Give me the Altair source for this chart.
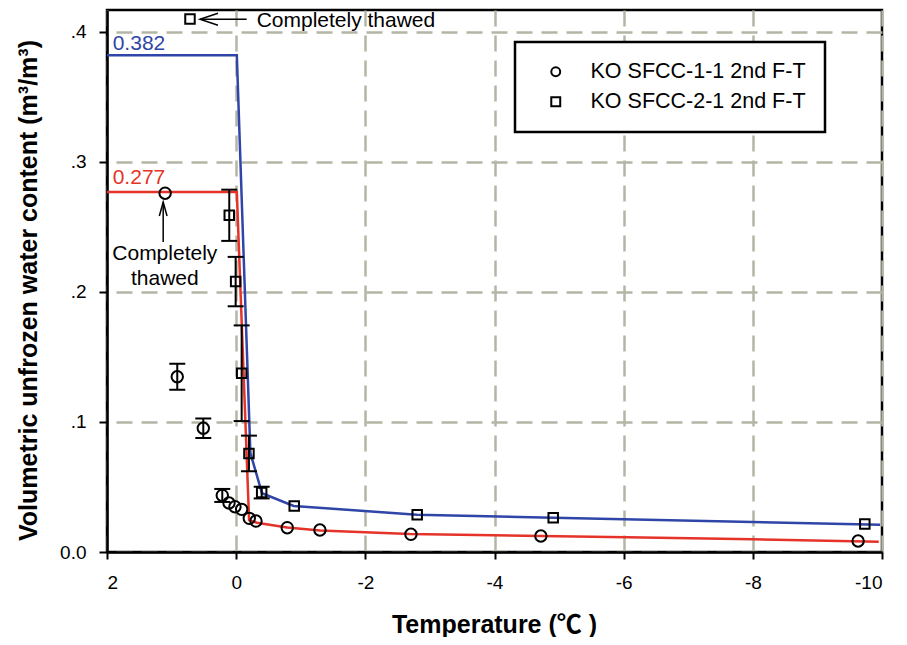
import altair as alt
import pandas as pd

FONT = "Liberation Sans, Arial, Noto Sans CJK SC, sans-serif"
L1 = "KO SFCC-1-1 2nd F-T"
L2 = "KO SFCC-2-1 2nd F-T"

# measured points, series 1 (circles)
c_temp = [1.10, 0.912, 0.509, 0.215, 0.111, 0.019, -0.085, -0.203, -0.307, -0.791, -1.297, -2.706, -4.718, -9.630]
c_theta = [0.276, 0.1348, 0.0952, 0.0435, 0.0377, 0.0348, 0.0328, 0.0259, 0.0238, 0.0187, 0.0169, 0.0136, 0.0123, 0.0085]
c_err = [0, 0.010, 0.0075, 0.005, 0, 0, 0, 0, 0, 0, 0, 0, 0, 0]

# measured points, series 2 (squares)
s_temp = [0.715, 0.107, 0.008, -0.085, -0.198, -0.395, -0.899, -2.803, -4.909, -9.734]
s_theta = [0.410, 0.259, 0.208, 0.1375, 0.0758, 0.0457, 0.0354, 0.0287, 0.0264, 0.0215]
s_err = [0, 0.0197, 0.019, 0.0368, 0.0137, 0.0045, 0, 0, 0, 0]

# fitted curves
red_temp = [2, -0.01, -0.20, -0.32, -0.79, -1.30, -2.69, -4.72, -6.05, -8.0, -9.95]
red_theta = [0.277, 0.277, 0.0246, 0.0225, 0.0188, 0.0165, 0.0138, 0.0123, 0.0113, 0.0098, 0.0078]
blue_temp = [2, -0.01, -0.22, -0.40, -0.89, -2.80, -4.91, -9.97]
blue_theta = [0.382, 0.382, 0.0762, 0.0452, 0.0354, 0.0287, 0.0264, 0.0210]

# axis ticks
x_ticks = [2, 0, -2, -4, -6, -8, -10]
y_ticks = [0.0, 0.1, 0.2, 0.3, 0.4]

# annotations
ann_text = ["0.382", "0.277", "Completely thawed", "Completely", "thawed"]
ann_temp = [1.912, 1.912, -0.317, 1.105, 1.105]
ann_theta = [0.3862, 0.2831, 0.4041, 0.2246, 0.2054]
ann_color = ["#2f45a8", "#e5332a", "black", "black", "black"]
ann_align = ["left", "left", "left", "center", "center"]

BLUE = "#2f45a8"
RED = "#e5332a"

xs = alt.Scale(domain=[-10, 2], reverse=True, nice=False, zero=False)
ys = alt.Scale(domain=[0, 0.4169], nice=False, zero=False)

xaxis = alt.Axis(
    values=x_ticks,
    labelExpr="datum.value < 0 ? '-' + abs(datum.value) : '' + datum.value",
    title="Temperature (\u2103 )",
    titleFontSize=25, titleFont=FONT, titleFontWeight="bold", titleColor="black",
    titleX=387, titleY=80, titleBaseline="alphabetic", titleAlign="center", titleAnchor="middle",
    labelFontSize=19, labelFont=FONT, labelColor="black", labelPadding=14,
    tickSize=7, tickWidth=2, tickColor="black",
    domainColor="black", domainWidth=2.5,
    grid=True, gridColor="#b5b5a6", gridWidth=2.5, gridDash=[16, 9],
)
yaxis = alt.Axis(
    values=y_ticks,
    labelExpr="datum.value == 0 ? '0.0' : '.' + round(datum.value * 10)",
    title="Volumetric unfrozen water content (m\u00b3/m\u00b3)",
    titleFontSize=25, titleFont=FONT, titleFontWeight="bold", titleColor="black",
    titleX=-79, titleY=280, titleBaseline="middle", titleAlign="center", titleAngle=270,
    labelFontSize=19, labelFont=FONT, labelColor="black", labelPadding=13,
    tickSize=8, tickWidth=2, tickColor="black",
    domainColor="black", domainWidth=2.5,
    grid=True, gridColor="#b5b5a6", gridWidth=2.5, gridDash=[16, 9],
)

X = alt.X("T:Q", scale=xs, axis=xaxis)
Y = alt.Y("theta:Q", scale=ys, axis=yaxis)

df_c = pd.DataFrame({"T": c_temp, "theta": c_theta, "err": c_err, "series": L1})
df_s = pd.DataFrame({"T": s_temp, "theta": s_theta, "err": s_err, "series": L2})
df_red = pd.DataFrame({"T": red_temp, "theta": red_theta})
df_blue = pd.DataFrame({"T": blue_temp, "theta": blue_theta})

df_err = pd.concat([df_c, df_s])
df_err = df_err[df_err["err"] > 0].copy()
df_err["lo"] = df_err["theta"] - df_err["err"]
df_err["hi"] = df_err["theta"] + df_err["err"]
df_caps = pd.concat([
    pd.DataFrame({"T": df_err["T"], "theta": df_err["lo"]}),
    pd.DataFrame({"T": df_err["T"], "theta": df_err["hi"]}),
])

df_ann = pd.DataFrame({"T": ann_temp, "theta": ann_theta, "label": ann_text,
                       "color": ann_color, "align": ann_align})

shape_scale = alt.Scale(domain=[L1, L2], range=["circle", "square"])
legend = alt.Legend(
    title=None, orient="none", legendX=408, legendY=32,
    padding=19, symbolOffset=11, labelOffset=24, rowPadding=7,
    strokeColor="black", fillColor="white",
    labelFont=FONT, labelFontSize=21.5, labelColor="black", labelLimit=400,
    symbolSize=80, symbolStrokeWidth=2, symbolStrokeColor="black",
    symbolFillColor="transparent",
)

red_line = alt.Chart(df_red).mark_line(color=RED, strokeWidth=2.5).encode(x=X, y=Y)
blue_line = alt.Chart(df_blue).mark_line(color=BLUE, strokeWidth=2.5).encode(x=X, y=Y)

err_rules = alt.Chart(df_err).mark_rule(color="black", strokeWidth=2).encode(
    x=X, y=alt.Y("lo:Q", scale=ys, axis=yaxis), y2="hi:Q")
err_caps = alt.Chart(df_caps).mark_tick(
    color="black", thickness=2, size=16, orient="horizontal", opacity=1).encode(x=X, y=Y)

pts_c = alt.Chart(df_c).mark_point(filled=False, color="black", strokeWidth=2, size=130, opacity=1).encode(
    x=X, y=Y, shape=alt.Shape("series:N", scale=shape_scale, legend=legend))
pts_s = alt.Chart(df_s).mark_point(filled=False, color="black", strokeWidth=2, size=90, opacity=1).encode(
    x=X, y=Y, shape=alt.Shape("series:N", scale=shape_scale, legend=legend))

# arrows
arrow_shaft_h = alt.Chart(pd.DataFrame({"T": [0.560], "T2": [-0.163], "theta": [0.4098]})).mark_rule(
    color="black", strokeWidth=1.5).encode(x=X, x2="T2:Q", y=Y)
arrow_head_h = alt.Chart(pd.DataFrame({"T": [0.421], "theta": [0.4098]})).mark_point(
    shape="M 1 -0.67 L -1 0 L 1 0.67", filled=False, color="black", strokeWidth=1.5, size=324, opacity=1
).encode(x=X, y=Y)
arrow_shaft_v = alt.Chart(pd.DataFrame({"T": [1.13], "theta": [0.2692], "theta2": [0.2385]})).mark_rule(
    color="black", strokeWidth=1.5).encode(x=X, y=Y, y2="theta2:Q")
arrow_head_v = alt.Chart(pd.DataFrame({"T": [1.13], "theta": [0.2638]})).mark_point(
    shape="M -0.55 1 L 0 -1 L 0.55 1", filled=False, color="black", strokeWidth=1.5, size=196, opacity=1
).encode(x=X, y=Y)

texts_left = alt.Chart(df_ann[df_ann["align"] == "left"]).mark_text(
    align="left", baseline="alphabetic", fontSize=21, font=FONT).encode(
    x=X, y=Y, text="label:N", color=alt.Color("color:N", scale=None))
texts_center = alt.Chart(df_ann[df_ann["align"] == "center"]).mark_text(
    align="center", baseline="alphabetic", fontSize=21, font=FONT).encode(
    x=X, y=Y, text="label:N", color=alt.Color("color:N", scale=None))

chart = alt.layer(
    red_line, blue_line, err_rules, err_caps, pts_c, pts_s,
    arrow_shaft_h, arrow_head_h, arrow_shaft_v, arrow_head_v,
    texts_left, texts_center,
).properties(
    width=775, height=542,
    autosize=alt.AutoSizeParams(type="none"),
    padding={"left": 99, "top": 2, "right": 8, "bottom": 85},
    background="white",
).configure_view(
    stroke="black", strokeWidth=2.5
).configure_legend(
    strokeWidth=2.5
)

chart.save("out.html", embed_options={"renderer": "svg", "actions": False})
